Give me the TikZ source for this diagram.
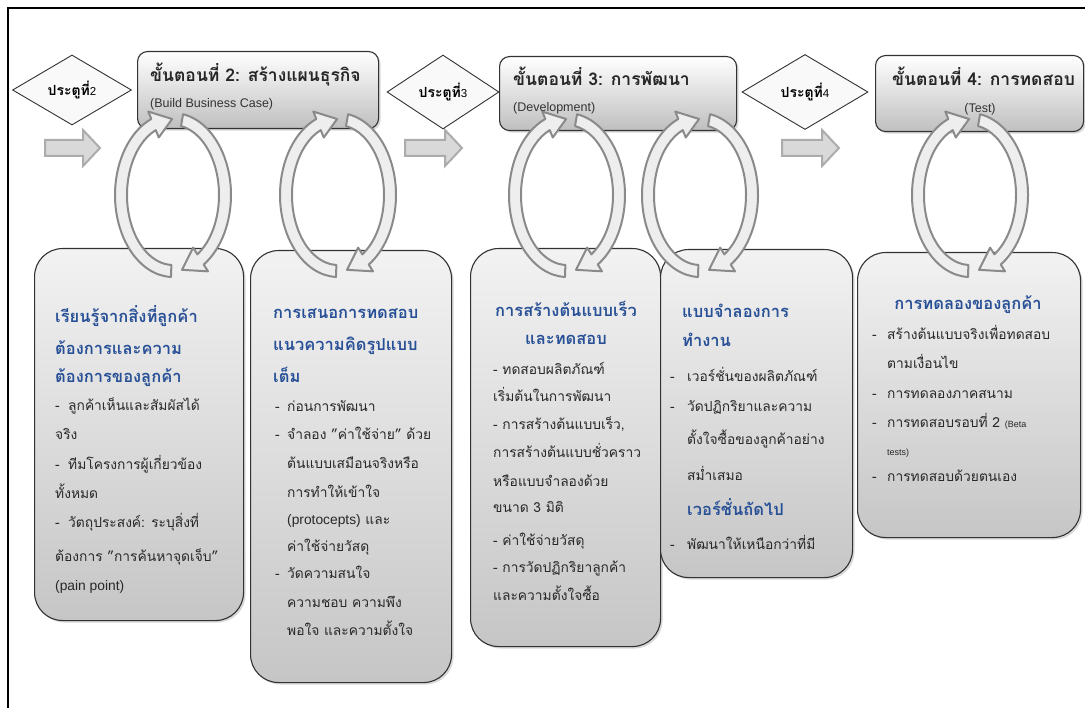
\documentclass[tikz,border=0pt]{standalone}
\usepackage{fontspec}
\setmainfont{Loma}[Script=Thai]
\newfontfamily\lat{Liberation Sans}
\usetikzlibrary{shadows,shapes.geometric}
\definecolor{hblue}{RGB}{40,80,150}
\definecolor{txtc}{RGB}{40,40,40}
\definecolor{bandfill}{RGB}{238,238,238}
\definecolor{bandline}{RGB}{138,138,138}
\definecolor{edge}{RGB}{50,50,50}
\newcounter{ln}
\newcommand\Ln[4][]{\stepcounter{ln}\node[txt,#1] (L\theln) at (#2,#3) {#4};}
\newcommand\Hd[4][]{\Ln[hd,#1]{#2}{#3}{#4}}
\newcommand\Dsh[2]{\makebox[#1][l]{-}#2}
\newcommand\cyc[2]{%
\begin{scope}[shift={(#1,#2)},yscale=-1]
\filldraw[band] (268:58 and 82) arc[start angle=268,end angle=112,x radius=58,y radius=82]
  -- (112:66 and 90) -- (91:52 and 76) -- (112:38 and 62) -- (112:46 and 70)
  arc[start angle=112,end angle=268,x radius=46,y radius=70] -- cycle;
\filldraw[band] (80:58 and 82) arc[start angle=80,end angle=-58,x radius=58,y radius=82]
  -- (-58:66 and 90) -- (-80:52 and 76) -- (-58:38 and 62) -- (-58:46 and 70)
  arc[start angle=-58,end angle=80,x radius=46,y radius=70] -- cycle;
\end{scope}}
\tikzset{
  txt/.style={anchor=base west, inner sep=0pt, font=\fontsize{13.8}{16}\selectfont, text=txtc},
  hd/.style={font=\fontsize{16.5}{18}\selectfont\bfseries, text=hblue},
  cbox/.style={draw=edge, line width=1.1pt, rounded corners=28pt, top color=gray!10, bottom color=gray!45,
    drop shadow={shadow xshift=2pt,shadow yshift=-2pt,opacity=0.3}, anchor=north west, inner sep=0pt},
  hbox/.style={draw=edge, line width=1.1pt, rounded corners=10pt, top color=white, bottom color=gray!50,
    drop shadow={shadow xshift=2pt,shadow yshift=-2pt,opacity=0.3}, anchor=north west, inner sep=0pt},
  gate/.style={diamond, draw=edge, line width=0.9pt, fill=gray!5, inner sep=0pt,
    font=\fontsize{14}{16}\selectfont\bfseries},
  band/.style={fill=bandfill, draw=bandline, line width=2pt, line join=round},
  blockarrow/.style={fill=gray!30, draw=gray!65, line width=2pt, line join=miter},
  ttl/.style={anchor=base west, inner sep=0pt, font=\fontsize{17.5}{19}\selectfont\bfseries, text=black!85},
  sub/.style={anchor=base west, inner sep=0pt, font=\lat\fontsize{12.5}{14}\selectfont, text=black!80}
}
\begin{document}
\begin{tikzpicture}[x=1pt,y=-1pt]
\useasboundingbox (0,0) rectangle (1085,708);
% frame
\draw[line width=1.6pt] (8,708) -- (8,8) -- (1085,8);
% block arrows
\filldraw[blockarrow] (45,140) -- (83,140) -- (83,130) -- (100,148) -- (83,166) -- (83,156) -- (45,156) -- cycle;
\filldraw[blockarrow] (405,140) -- (445,140) -- (445,130) -- (462,148) -- (445,166) -- (445,156) -- (405,156) -- cycle;
\filldraw[blockarrow] (782,140) -- (822,140) -- (822,130) -- (839,148) -- (822,166) -- (822,156) -- (782,156) -- cycle;
% gates
\node[gate, minimum width=119pt, minimum height=70pt] (g2) at (72,90) {ประตูที่{\lat\mdseries\fontsize{11.5}{13}\selectfont 2}};
\node[gate, minimum width=112pt, minimum height=74pt] (g3) at (443,92) {ประตูที่{\lat\mdseries\fontsize{11.5}{13}\selectfont 3}};
\node[gate, minimum width=126pt, minimum height=75pt] (g4) at (805,92) {ประตูที่{\lat\mdseries\fontsize{11.5}{13}\selectfont 4}};
% header boxes
\node[hbox, minimum width=241pt, minimum height=77pt] (h2) at (137,51) {};
\node[hbox, minimum width=237pt, minimum height=74pt] (h3) at (499,56) {};
\node[hbox, minimum width=208pt, minimum height=76pt] (h4) at (875,55) {};
% content boxes
\node[cbox, minimum width=209pt, minimum height=372pt] (b1) at (34,248) {};
\node[cbox, minimum width=201pt, minimum height=432pt] (b2) at (250,250) {};
\node[cbox, minimum width=190pt, minimum height=398pt] (b3) at (470,248) {};
\node[cbox, minimum width=192pt, minimum height=328pt] (b4) at (660,249) {};
\node[cbox, minimum width=223pt, minimum height=285pt] (b5) at (857,252) {};
% cycle arrows
\cyc{173}{195}
\cyc{338}{195}
\cyc{567}{195}
\cyc{700}{195}
\cyc{970}{195}
% header texts
\node[ttl] (t2) at (150,82) {ขั้นตอนที่ 2: สร้างแผนธุรกิจ};
\node[sub] (s2) at (150,108) {(Build Business Case)};
\node[ttl] (t3) at (513,86) {ขั้นตอนที่ 3: การพัฒนา};
\node[sub] (s3) at (513,112) {(Development)};
\node[ttl] (t4) at (892,86) {ขั้นตอนที่ 4: การทดสอบ};
\node[sub, anchor=base] (s4) at (980,113) {(Test)};
% box 1
\Hd{55}{323}{เรียนรู้จากสิ่งที่ลูกค้า}
\Hd{55}{355}{ต้องการและความ}
\Hd{55}{383}{ต้องการของลูกค้า}
\Ln{55}{411}{\Dsh{13pt}{ลูกค้าเห็นและสัมผัสได้}}
\Ln{55}{440}{จริง}
\Ln{55}{470}{\Dsh{13pt}{ทีมโครงการผู้เกี่ยวข้อง}}
\Ln{55}{499}{ทั้งหมด}
\Ln{55}{528}{\Dsh{13pt}{วัตถุประสงค์: ระบุสิ่งที่}}
\Ln{55}{561}{ต้องการ "การค้นหาจุดเจ็บ"}
\Ln{55}{590}{{\lat (pain point)}}
% box 2
\Hd{273}{319}{การเสนอการทดสอบ}
\Hd{273}{351}{แนวความคิดรูปแบบ}
\Hd{273}{383}{เต็ม}
\Ln{275}{412}{\Dsh{12pt}{ก่อนการพัฒนา}}
\Ln{275}{440}{\Dsh{12pt}{จำลอง "ค่าใช้จ่าย" ด้วย}}
\Ln{287}{469}{ต้นแบบเสมือนจริงหรือ}
\Ln{287}{497}{การทำให้เข้าใจ}
\Ln{287}{525}{{\lat (protocepts)} และ}
\Ln{287}{551}{ค่าใช้จ่ายวัสดุ}
\Ln{275}{578}{\Dsh{12pt}{วัดความสนใจ}}
\Ln{287}{607}{ความชอบ ความพึง}
\Ln{287}{635}{พอใจ และความตั้งใจ}
% box 3
\Hd[anchor=base]{566}{317}{การสร้างต้นแบบเร็ว}
\Hd[anchor=base]{566}{345}{และทดสอบ}
\Ln{493}{375}{- ทดสอบผลิตภัณฑ์}
\Ln{493}{402}{เริ่มต้นในการพัฒนา}
\Ln{493}{430}{- การสร้างต้นแบบเร็ว,}
\Ln{493}{458}{การสร้างต้นแบบชั่วคราว}
\Ln{493}{486}{หรือแบบจำลองด้วย}
\Ln{493}{513}{ขนาด 3 มิติ}
\Ln{493}{545}{- ค่าใช้จ่ายวัสดุ}
\Ln{493}{572}{- การวัดปฏิกริยาลูกค้า}
\Ln{493}{600}{และความตั้งใจซื้อ}
% box 4
\Hd{682}{318}{แบบจำลองการ}
\Hd{682}{347}{ทำงาน}
\Ln{670}{382}{\Dsh{17pt}{เวอร์ชั่นของผลิตภัณฑ์}}
\Ln{670}{412}{\Dsh{17pt}{วัดปฏิกริยาและความ}}
\Ln{687}{445}{ตั้งใจซื้อของลูกค้าอย่าง}
\Ln{687}{481}{สม่ำเสมอ}
\Hd{687}{515}{เวอร์ชั่นถัดไป}
\Ln{670}{550}{\Dsh{17pt}{พัฒนาให้เหนือกว่าที่มี}}
% box 5
\Hd[anchor=base]{968}{310}{การทดลองของลูกค้า}
\Ln{872}{340}{\Dsh{15pt}{สร้างต้นแบบจริงเพื่อทดสอบ}}
\Ln{887}{369}{ตามเงื่อนไข}
\Ln{872}{399}{\Dsh{15pt}{การทดลองภาคสนาม}}
\Ln{872}{428}{\Dsh{15pt}{การทดสอบรอบที่ 2 {\lat\fontsize{9}{11}\selectfont (Beta}}}
\Ln{887}{456}{{\lat\fontsize{9}{11}\selectfont tests)}}
\Ln{872}{482}{\Dsh{15pt}{การทดสอบด้วยตนเอง}}
\end{tikzpicture}
\end{document}
